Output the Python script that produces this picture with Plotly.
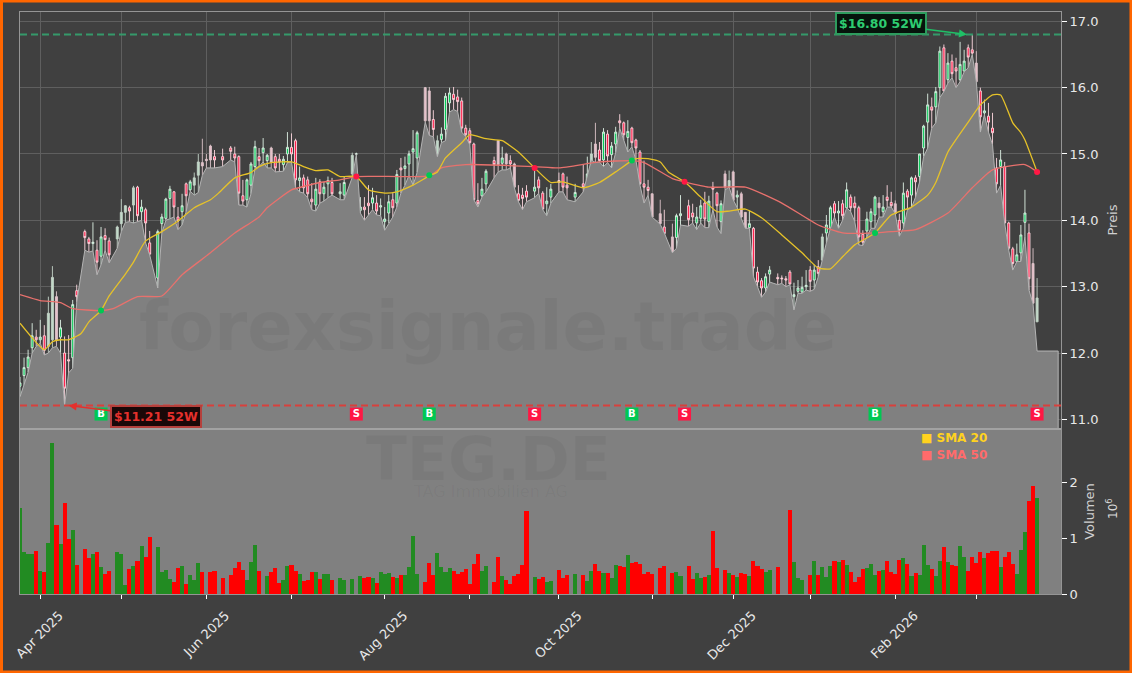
# -*- coding: utf-8 -*-
# TEG.DE candlestick chart with area, SMA lines and volume panel
import plotly.graph_objects as go
from plotly.subplots import make_subplots

# one entry per trading slot, None = no candle / no volume that day
opens = [11.5, 11.66, 11.78, 12.08, 12.24, 12.2, 12.26, 12.1, 12.2, 12.85,
         12.24, 12.0, 11.9, 11.93, 12.94, None, 13.83, 13.72, 13.65, 13.55,
         13.46, 13.77, 13.69, None, 13.72, 13.95, 14.12, 14.19, 14.23, 14.5,
         14.13, 14.16, 13.66, None, 13.13, 13.95, 14.03, 14.33, 14.43, 14.05,
         14.13, 14.55, 14.46, 14.53, 14.68, 14.87, 14.92, 15.12, 14.96, None,
         14.96, None, 15.09, 15.0, 14.96, 14.37, 14.31, 14.53, 14.81, 14.96,
         15.02, 14.9, 15.09, 14.96, 14.92, 14.84, 15.0, 15.1, 15.2, 14.6,
         14.64, 14.61, 14.32, 14.23, 14.58, 14.4, 14.55, 14.57, None, 14.4,
         14.38, None, 14.7, 15.0, 14.15, 14.2, 14.26, 14.26, 14.26, 14.2,
         13.98, 14.11, 14.31, 14.26, 14.79, 14.78, 14.85, 15.03, 14.94, None,
         16.0, 15.95, 15.52, 15.0, 15.22, 15.37, 15.77, 15.9, 15.86, 15.8,
         15.39, 15.35, 15.15, 14.3, 14.37, 14.55, None, 14.9, 15.2, 14.86,
         15.0, 14.9, 14.85, 14.4, 14.38, 14.44, None, 14.44, 14.61, 14.41,
         14.25, 14.35, None, 14.6, 14.7, 14.53, None, 14.35, None, 14.55,
         14.6, 14.75, 15.15, 15.06, 14.91, 15.3, 14.99, 15.15, 15.5, 15.47,
         15.25, 15.39, 15.21, 15.03, 14.55, 14.5, 14.4, None, 14.1, 13.9,
         None, 13.75, 13.74, 14.07, None, 14.22, 14.11, 13.96, 14.03, 14.26,
         13.98, 14.5, 14.41, 13.98, 14.7, 14.5, 14.73, 14.35, 14.4, 14.12,
         13.89, 13.88, 13.22, 13.09, 12.98, 13.19, None, 13.14, 13.13, 13.12,
         13.22, 12.85, 12.93, 12.92, 13.0, 13.25, 13.1, 13.3, 13.4, 13.81,
         13.88, 14.25, 14.11, 14.25, 14.19, 14.35, 14.26, 14.19, 13.79, 13.84,
         13.98, 14.08, 14.26, 14.13, 14.35, 14.27, 14.25, 14.0, 13.96, 14.44,
         14.38, 14.64, 14.66, 15.09, 15.48, 15.71, 15.71, 16.0, 16.6, 16.12,
         16.4, 16.3, 16.12, 16.25, 16.6, 16.57, 16.37, 15.95, 15.62, 15.57,
         15.39, 14.79, 14.81, 14.81, 13.96, 13.57, 13.38, 13.51, 13.97, 13.81,
         13.35, 12.47]
highs = [11.64, 11.93, 12.05, 12.45, 12.35, 12.5, 12.42, 12.85, 13.31, 12.93,
         12.5, 12.25, 12.27, 12.8, 13.03, None, 13.86, 13.75, 13.97, 13.7,
         13.9, 13.88, 13.74, None, 13.92, 14.32, 14.23, 14.22, 14.52, 14.52,
         14.31, 14.19, 13.84, None, 13.86, 14.1, 14.34, 14.52, 14.44, 14.2,
         14.4, 14.57, 14.61, 14.72, 15.0, 15.23, 15.0, 15.14, 15.06, None,
         15.08, None, 15.12, 15.11, 14.98, 14.61, 14.63, 14.88, 15.2, 15.09,
         15.24, 15.0, 15.11, 15.0, 15.0, 14.97, 15.33, 15.31, 15.23, 14.81,
         14.69, 14.66, 14.56, 14.64, 14.62, 14.58, 14.66, 14.64, None, 14.56,
         14.66, None, 15.02, 15.02, 14.35, 14.35, 14.53, 14.49, 14.38, 14.33,
         14.2, 14.38, 14.41, 14.76, 14.94, 14.96, 15.05, 15.36, 15.35, None,
         16.01, 16.01, 15.66, 15.28, 15.4, 15.92, 16.0, 16.01, 15.97, 15.85,
         15.44, 15.39, 15.17, 14.56, 14.64, 14.77, None, 14.96, 15.21, 15.11,
         15.02, 14.98, 14.87, 14.53, 14.49, 14.53, None, 14.76, 14.66, 14.44,
         14.5, 14.55, None, 14.72, 14.72, 14.66, None, 14.55, None, 14.84,
         14.96, 15.18, 15.47, 15.18, 15.39, 15.36, 15.18, 15.41, 15.6, 15.49,
         15.51, 15.41, 15.23, 15.06, 14.9, 14.61, 14.38, None, 14.31, 14.16,
         None, 13.95, 14.1, 14.38, None, 14.31, 14.25, 14.2, 14.31, 14.43,
         14.37, 14.58, 14.43, 14.3, 14.75, 14.75, 14.75, 14.45, 14.43, 14.12,
         14.15, 13.9, 13.3, 13.13, 13.2, 13.31, None, 13.2, 13.17, 13.16,
         13.25, 13.06, 13.1, 13.15, 13.25, 13.31, 13.33, 13.4, 13.8, 14.08,
         14.22, 14.29, 14.29, 14.31, 14.57, 14.39, 14.36, 14.22, 13.85, 14.13,
         14.18, 14.37, 14.35, 14.38, 14.53, 14.43, 14.3, 14.1, 14.57, 14.47,
         14.66, 14.68, 15.0, 15.44, 15.91, 15.85, 16.01, 16.62, 16.65, 16.52,
         16.5, 16.45, 16.69, 16.57, 16.65, 16.8, 16.55, 16.0, 15.82, 15.77,
         15.62, 14.94, 15.06, 14.88, 13.98, 13.6, 13.65, 13.93, 14.46, 13.95,
         13.58, 13.13]
lows = [11.34, 11.52, 11.71, 12.0, 12.1, 12.15, 11.97, 12.0, 12.08, 12.1,
        12.0, 11.21, 11.7, 11.77, 12.77, None, 13.55, 13.52, 13.54, 13.18,
        13.33, 13.55, 13.36, None, 13.58, 13.83, 13.97, 13.98, 13.96, 13.98,
        14.0, 13.66, 13.48, None, 12.98, 13.81, 14.0, 14.03, 14.05, 13.86,
        13.93, 14.13, 14.44, 14.38, 14.42, 14.68, 14.79, 14.79, 14.79, None,
        14.81, None, 14.91, 14.88, 14.23, 14.23, 14.2, 14.4, 14.79, 14.81,
        14.88, 14.79, 14.79, 14.73, 14.74, 14.74, 14.87, 14.88, 14.49, 14.43,
        14.41, 14.34, 14.16, 14.14, 14.26, 14.29, 14.34, 14.38, None, 14.31,
        14.31, None, 14.65, 14.99, 14.11, 14.0, 14.08, 14.16, 14.08, 14.07,
        13.85, 13.96, 14.05, 14.2, 14.41, 14.53, 14.68, 14.53, 14.72, None,
        15.48, 15.28, 15.26, 14.96, 15.17, 15.2, 15.63, 15.67, 15.64, 15.33,
        15.26, 15.14, 14.31, 14.2, 14.35, 14.43, None, 14.64, 14.73, 14.76,
        14.76, 14.79, 14.49, 14.28, 14.16, 14.28, None, 14.34, 14.41, 14.16,
        14.07, 14.26, None, 14.43, 14.43, 14.31, None, 14.28, None, 14.43,
        14.66, 14.91, 14.87, 14.88, 14.81, 14.87, 14.79, 15.02, 15.39, 15.21,
        15.03, 15.11, 14.91, 14.53, 14.26, 14.38, 14.05, None, 13.94, 13.81,
        None, 13.51, 13.58, 13.93, None, 13.91, 13.96, 13.86, 13.96, 13.89,
        13.89, 14.16, 13.9, 13.8, 14.46, 14.5, 14.31, 14.19, 14.03, 13.88,
        13.88, 13.15, 13.0, 12.84, 12.92, 13.07, None, 13.03, 13.05, 13.0,
        13.03, 12.65, 12.9, 12.9, 12.95, 12.93, 12.96, 13.15, 13.41, 13.66,
        13.88, 14.05, 13.88, 14.0, 14.19, 14.13, 13.98, 13.63, 13.62, 13.74,
        13.88, 13.88, 14.05, 14.05, 14.2, 14.2, 14.1, 13.76, 13.88, 14.16,
        14.19, 14.35, 14.58, 14.96, 15.09, 15.39, 15.47, 15.85, 15.94, 16.07,
        16.15, 16.0, 16.09, 16.24, 16.3, 16.5, 16.09, 15.33, 15.59, 15.33,
        15.14, 14.41, 14.53, 13.96, 13.55, 13.25, 13.38, 13.38, 13.75, 12.95,
        12.74, 12.47]
closes = [11.55, 11.78, 11.94, 12.26, 12.2, 12.24, 12.04, 12.6, 13.14, 12.2,
          12.38, 11.47, 11.88, 12.73, 12.85, None, 13.74, 13.65, 13.67, 13.37,
          13.75, 13.71, 13.48, None, 13.9, 14.12, 14.22, 14.14, 14.49, 14.07,
          14.2, 13.96, 13.49, None, 13.83, 14.05, 14.32, 14.47, 14.2, 13.99,
          14.22, 14.37, 14.58, 14.64, 14.88, 14.82, 14.9, 14.91, 14.91, None,
          14.91, None, 15.04, 14.94, 14.41, 14.29, 14.61, 14.85, 15.11, 14.9,
          15.09, 14.98, 14.88, 14.79, 14.88, 14.92, 15.1, 15.0, 14.61, 14.64,
          14.49, 14.4, 14.28, 14.47, 14.4, 14.5, 14.6, 14.4, None, 14.43,
          14.57, None, 14.98, 15.0, 14.2, 14.16, 14.22, 14.34, 14.14, 14.22,
          14.02, 14.28, 14.19, 14.69, 14.76, 14.82, 15.0, 15.08, 15.32, None,
          15.5, 15.5, 15.37, 15.2, 15.3, 15.87, 15.92, 15.82, 15.79, 15.39,
          15.29, 15.17, 14.31, 14.25, 14.47, 14.74, None, 14.84, 14.84, 14.94,
          14.85, 14.85, 14.5, 14.3, 14.33, 14.35, None, 14.5, 14.49, 14.17,
          14.29, 14.47, None, 14.57, 14.5, 14.49, None, 14.42, None, 14.5,
          14.7, 15.0, 14.95, 14.9, 15.33, 14.97, 15.12, 15.33, 15.47, 15.29,
          15.34, 15.17, 15.09, 14.55, 14.5, 14.45, 14.05, None, 13.95, 13.8,
          None, 13.5, 14.07, 14.1, None, 14.01, 14.05, 14.05, 14.22, 14.02,
          14.29, 14.47, 14.22, 14.25, 14.5, 14.6, 14.3, 14.38, 14.05, 13.85,
          13.95, 13.28, 13.07, 12.98, 13.15, 13.25, None, 13.12, 13.12, 13.1,
          13.04, 12.88, 12.98, 12.99, 13.02, 13.08, 13.25, 13.2, 13.75, 13.93,
          14.19, 14.11, 14.14, 14.07, 14.46, 14.19, 14.19, 13.75, 13.67, 14.02,
          14.13, 14.35, 14.19, 14.2, 14.3, 14.22, 14.1, 13.85, 14.41, 14.35,
          14.64, 14.58, 15.0, 15.42, 15.74, 15.66, 15.94, 16.55, 15.95, 16.37,
          16.21, 16.25, 16.35, 16.4, 16.46, 16.52, 16.09, 15.56, 15.65, 15.48,
          15.32, 14.55, 14.91, 13.96, 13.58, 13.35, 13.48, 13.78, 14.11, 13.12,
          12.75, 12.83]
# volume in millions
volumes = [1.54, 0.75, 0.72, 0.71, 0.77, 0.41, 0.39, 0.91, 2.71, 1.23,
           0.89, 1.63, 0.98, 1.15, 0.52, None, 0.81, 0.65, 0.71, 0.75,
           0.49, 0.36, 0.41, None, 0.75, 0.72, 0.16, 0.45, 0.50, 0.59,
           0.86, 0.66, 1.02, None, 0.84, 0.40, 0.43, 0.27, 0.22, 0.47,
           0.50, 0.18, 0.34, 0.25, 0.56, 0.40, None, 0.40, 0.41, None,
           0.29, None, 0.34, 0.47, 0.57, 0.43, 0.25, 0.57, 0.88, 0.41,
           None, 0.32, 0.40, 0.47, 0.20, 0.25, 0.50, 0.52, 0.41, 0.36,
           0.24, 0.25, 0.40, 0.40, 0.27, 0.36, 0.36, 0.25, None, 0.29,
           0.25, None, 0.27, None, 0.32, 0.29, 0.31, 0.29, 0.20, 0.40,
           0.36, 0.38, 0.31, 0.29, 0.34, 0.34, 0.49, 1.04, 0.36, None,
           0.22, 0.56, 0.34, 0.74, 0.49, 0.40, 0.47, 0.41, 0.36, 0.40,
           0.45, 0.18, 0.54, 0.72, 0.41, 0.50, None, 0.22, 0.66, 0.32,
           0.25, 0.18, 0.32, 0.36, 0.52, 1.49, None, 0.31, 0.27, 0.31,
           0.22, 0.23, None, 0.43, 0.29, 0.34, None, 0.36, None, 0.34,
           0.23, 0.41, 0.54, 0.41, 0.38, 0.38, 0.29, 0.52, 0.50, 0.49,
           0.70, 0.56, 0.57, 0.54, 0.36, 0.40, 0.36, None, 0.47, 0.50,
           None, 0.38, 0.40, 0.32, None, 0.50, 0.27, 0.38, 0.29, 0.30,
           0.34, 1.13, 0.46, None, 0.43, 0.38, 0.34, 0.30, 0.38, 0.36,
           0.32, 0.59, 0.50, 0.45, 0.39, 0.43, None, 0.48, None, None,
           1.50, 0.57, 0.29, 0.25, None, 0.34, 0.59, 0.34, 0.48, 0.30,
           0.50, 0.59, 0.57, 0.61, 0.52, 0.39, 0.21, 0.30, 0.45, 0.46,
           0.54, 0.34, 0.41, 0.43, 0.59, 0.39, 0.36, 0.61, 0.64, 0.54,
           0.32, 0.38, 0.34, 0.88, 0.52, 0.45, 0.32, 0.59, 0.84, 0.57,
           0.52, 0.50, 0.86, 0.66, 0.41, 0.66, 0.55, 0.75, 0.64, 0.73,
           0.77, 0.77, 0.48, 0.66, 0.75, 0.54, 0.36, 0.79, 1.11, 1.66,
           1.93, 1.73]

# candles that look washed out in the picture
pale_idx = [7, 8, 9, 24, 25, 26, 28, 43, 44, 45, 46, 47, 62, 82, 100, 101, 103, 118, 120, 122,
            141, 142, 156, 158, 161, 174, 175, 176, 178, 179, 198, 212, 216, 236, 250, 251]

sma20_idx = [0, 6, 8, 10, 12, 15, 17, 20, 22, 26, 28, 31, 35, 39, 43, 47, 49, 53, 57, 59, 62,
             67, 70, 73, 76, 79, 83, 86, 90, 93, 97, 101, 103, 105, 109, 111, 115, 119, 123,
             127, 131, 134, 139, 143, 147, 151, 152, 155, 158, 160, 164, 168, 172, 175, 179,
             183, 188, 193, 197, 200, 203, 206, 211, 215, 220, 224, 226, 229, 234, 237, 240,
             242, 245, 247, 248, 251]
sma20 = [12.45, 12.05, 12.17, 12.20, 12.20, 12.29, 12.47, 12.64, 12.86, 13.19, 13.37, 13.69,
         13.83, 13.99, 14.19, 14.31, 14.41, 14.64, 14.72, 14.81, 14.87, 14.88, 14.81, 14.75,
         14.76, 14.66, 14.66, 14.46, 14.41, 14.43, 14.53, 14.67, 14.73, 14.94, 15.17, 15.29,
         15.23, 15.20, 15.03, 14.79, 14.57, 14.58, 14.49, 14.57, 14.73, 14.90, 14.93, 14.93,
         14.88, 14.73, 14.58, 14.35, 14.13, 14.14, 14.17, 14.04, 13.78, 13.51, 13.28, 13.27,
         13.45, 13.63, 13.81, 14.08, 14.20, 14.38, 14.57, 15.03, 15.48, 15.74, 15.89, 15.89,
         15.47, 15.32, 15.21, 14.73]
sma50_idx = [0, 5, 10, 13, 20, 23, 29, 35, 40, 47, 53, 59, 61, 67, 70, 74, 79, 83, 94, 101,
             104, 110, 127, 133, 143, 151, 154, 161, 164, 170, 179, 188, 197, 203, 211, 215,
             221, 229, 235, 240, 248, 251]
sma50 = [12.88, 12.79, 12.76, 12.67, 12.64, 12.67, 12.85, 12.86, 13.18, 13.51, 13.81, 14.05,
         14.19, 14.46, 14.51, 14.57, 14.61, 14.66, 14.66, 14.67, 14.79, 14.84, 14.81, 14.79,
         14.88, 14.90, 14.87, 14.63, 14.58, 14.50, 14.50, 14.26, 13.93, 13.81, 13.81, 13.83,
         13.86, 14.11, 14.49, 14.76, 14.84, 14.73]

signal_idx = [20, 83, 101, 127, 151, 164, 211, 251]
signal_type = ["B", "S", "B", "S", "B", "S", "B", "S"]
signal_price = [12.64, 14.66, 14.68, 14.79, 14.90, 14.58, 13.81, 14.73]
signal_row = 11.08

tick_idx = [5, 25, 46, 67, 90, 111, 133, 156, 176, 195, 216, 236]
tick_text = ["Apr 2025", "", "Jun 2025", "", "Aug 2025", "", "Oct 2025", "", "Dec 2025", "", "Feb 2026", ""]

high_52w = 16.80
low_52w = 11.21
high_52w_idx = 233.7
low_52w_idx = 12
area_tail_price = 12.03
area_end_idx = 256.2
x_max = 256.9

FONT = "DejaVu Sans"
BG = "#404040"
GREEN = "#00c853"
RED = "#ff1744"
W, H = 1132, 673
L_PX, R_PX, T_PX, B_PX = 19.5, 1061, 12, 594


def px_x(px):
    return (px - L_PX) / (R_PX - L_PX)


def px_y(py):
    return (B_PX - py) / (B_PX - T_PX)


def add_candles(idx, inc_line, inc_fill, dec_line, dec_fill):
    fig.add_trace(go.Candlestick(x=idx,
                                 open=[opens[i] for i in idx],
                                 high=[highs[i] for i in idx],
                                 low=[lows[i] for i in idx],
                                 close=[closes[i] for i in idx],
                                 increasing=dict(line=dict(color=inc_line, width=0.9), fillcolor=inc_fill),
                                 decreasing=dict(line=dict(color=dec_line, width=0.9), fillcolor=dec_fill)),
                  row=1, col=1)


n = len(opens)
has_candle = [i for i in range(n) if opens[i] is not None]
vol_colors = ["red" if (opens[i] is not None and closes[i] < opens[i]) else "forestgreen" for i in range(n)]

# area follows the lows, then runs flat to the right end of the chart
area_x = [i for i in has_candle if i < n - 1] + [n - 1, area_end_idx, area_end_idx]
area_y = [lows[i] for i in has_candle if i < n - 1] + [area_tail_price, area_tail_price, 0]

fig = make_subplots(rows=2, cols=1, shared_xaxes=True)

fig.add_trace(go.Scatter(x=area_x, y=area_y, mode="lines", fill="tozeroy", fillcolor="#808080",
                         line=dict(color="#b4b4b4", width=1), hoverinfo="skip"), row=1, col=1)
add_candles([i for i in has_candle if i not in pale_idx], "#dff2e5", GREEN, "#ffd9e1", RED)
add_candles(pale_idx, "#c4d4c8", "#c0dcc8", "#dcc4ca", "#e8c0ca")
fig.add_trace(go.Scatter(x=sma50_idx, y=sma50, mode="lines",
                         line=dict(color="#e8716d", width=1.3, shape="spline", smoothing=0.5)), row=1, col=1)
fig.add_trace(go.Scatter(x=sma20_idx, y=sma20, mode="lines",
                         line=dict(color="#e6c229", width=1.3, shape="spline", smoothing=0.5)), row=1, col=1)

# crossing dots on the lines and the B / S squares in the bottom row
sig_colors = [GREEN if t == "B" else RED for t in signal_type]
fig.add_trace(go.Scatter(x=signal_idx, y=signal_price, mode="markers",
                         marker=dict(color=sig_colors, size=6)), row=1, col=1)
fig.add_trace(go.Scatter(x=signal_idx, y=[signal_row] * len(signal_idx), mode="markers+text",
                         marker=dict(color=sig_colors, size=13, symbol="square"),
                         text=signal_type, textposition="middle center",
                         textfont=dict(family=FONT, size=10, color="white", weight=700)), row=1, col=1)

fig.add_trace(go.Bar(x=list(range(n)), y=volumes, width=1, marker=dict(color=vol_colors, line_width=0)), row=2, col=1)

# 52 week lines
fig.add_shape(type="line", xref="x", yref="y", x0=0, x1=x_max, y0=high_52w, y1=high_52w,
              line=dict(color="#35996a", width=2, dash="7px,4px"))
fig.add_shape(type="line", xref="x", yref="y", x0=0, x1=x_max, y0=low_52w, y1=low_52w,
              line=dict(color="#d8403c", width=2, dash="7px,4px"))

# panel background of the volume part and the thicker line between the panels
fig.add_shape(type="rect", xref="x2 domain", yref="y2 domain", x0=0, x1=1, y0=0, y1=1,
              fillcolor="#808080", line_width=0, layer="below")
fig.add_shape(type="line", xref="x2 domain", yref="y2 domain", x0=0, x1=1, y0=1, y1=1,
              line=dict(color="#a2a2a2", width=2))
# orange frame
fig.add_shape(type="rect", xref="paper", yref="paper", x0=px_x(1), x1=px_x(W - 1), y0=px_y(1), y1=px_y(H - 1),
              line=dict(color="#ff6600", width=3))

fig.add_annotation(x=high_52w_idx, y=high_52w, xref="x", yref="y", text=f"<b>${high_52w:.2f} 52W</b>",
                   showarrow=True, ax=-86, ay=-11, arrowhead=2, arrowwidth=1.6, arrowcolor="#1fc066",
                   font=dict(family=FONT, size=12.5, color="#2ecc71"), bgcolor="#06140c",
                   bordercolor="#2e9c5e", borderwidth=2, borderpad=2)
fig.add_annotation(x=low_52w_idx, y=low_52w, xref="x", yref="y", text=f"<b>${low_52w:.2f} 52W</b>",
                   showarrow=True, ax=87, ay=11, arrowhead=2, arrowwidth=1.6, arrowcolor="#e5302c",
                   font=dict(family=FONT, size=12.5, color="#e5302c"), bgcolor="#1a0808",
                   bordercolor="#b5403c", borderwidth=2, borderpad=2)

# watermark
wm = "rgba(0,0,0,0.045)"
mid = dict(xref="paper", yref="paper", showarrow=False, xanchor="center", yanchor="middle")
fig.add_annotation(x=px_x(488), y=px_y(327), text="<b>forexsignale.trade</b>",
                   font=dict(family=FONT, size=67, color=wm), **mid)
fig.add_annotation(x=px_x(488), y=px_y(459), text="<b>TEG.DE</b>",
                   font=dict(family=FONT, size=60, color=wm), **mid)
fig.add_annotation(x=px_x(490), y=px_y(491), text="TAG Immobilien AG",
                   font=dict(family=FONT, size=16, color=wm), **mid)

# legend
fig.add_annotation(x=px_x(919), y=px_y(438), xref="paper", yref="paper", showarrow=False, xanchor="left",
                   yanchor="middle", text="<b>■ SMA 20</b>", font=dict(family=FONT, size=12, color="#ffd21f"))
fig.add_annotation(x=px_x(919), y=px_y(455), xref="paper", yref="paper", showarrow=False, xanchor="left",
                   yanchor="middle", text="<b>■ SMA 50</b>", font=dict(family=FONT, size=12, color="#ff6b6b"))

# exponent of the volume axis
fig.add_annotation(x=px_x(1112), y=px_y(508), textangle=-90, text="10<sup>6</sup>",
                   font=dict(family=FONT, size=12, color="#d8d8d8"), **mid)

axis_line = "#959595"
grid = "#5f5f5f"
fig.update_layout(
    width=W, height=H, showlegend=False, bargap=0,
    margin=dict(l=L_PX, r=W - R_PX, t=T_PX, b=H - B_PX, pad=0),
    paper_bgcolor=BG, plot_bgcolor=BG,
    font=dict(family=FONT, color="#e8e8e8"),
    xaxis=dict(range=[0, x_max], domain=[0, 1], tickvals=tick_idx, ticktext=tick_text, showticklabels=False,
               ticks="", showgrid=True, gridcolor=grid, gridwidth=1, zeroline=False, automargin=False,
               showline=True, linecolor=axis_line, mirror=True, rangeslider=dict(visible=False)),
    xaxis2=dict(range=[0, x_max], domain=[0, 1], tickvals=tick_idx, ticktext=tick_text, tickangle=-45,
                ticks="outside", ticklen=4, tickcolor="white", ticklabelshift=19, ticklabelstandoff=4,
                tickfont=dict(family=FONT, size=13, color="#e8e8e8"), showgrid=False, zeroline=False,
                automargin=False, showline=True, linecolor=axis_line, mirror=True),
    yaxis=dict(domain=[px_y(428), 1], range=[10.87, 17.14], side="right", tickvals=[11, 12, 13, 14, 15, 16, 17],
               tickformat=".1f", ticks="outside", ticklen=5, tickcolor="white", automargin=False,
               tickfont=dict(family=FONT, size=13, color="#e8e8e8"), showgrid=True, gridcolor=grid,
               zeroline=False, showline=True, linecolor=axis_line, mirror=True,
               title=dict(text="Preis", standoff=10, font=dict(family=FONT, size=13, color="#d0d0d0"))),
    yaxis2=dict(domain=[0, px_y(429)], range=[0, 2.96], side="right", tickvals=[0, 1, 2], ticks="outside",
                ticklen=5, tickcolor="white", tickfont=dict(family=FONT, size=13, color="#e8e8e8"), showgrid=False,
                automargin=False, zeroline=False, showline=True, linecolor=axis_line, mirror=True,
                title=dict(text="Volumen", standoff=8, font=dict(family=FONT, size=13, color="#d0d0d0"))),
)

fig.write_html("out.html", config=dict(displayModeBar=False), post_script="document.body.style.margin='0';")
